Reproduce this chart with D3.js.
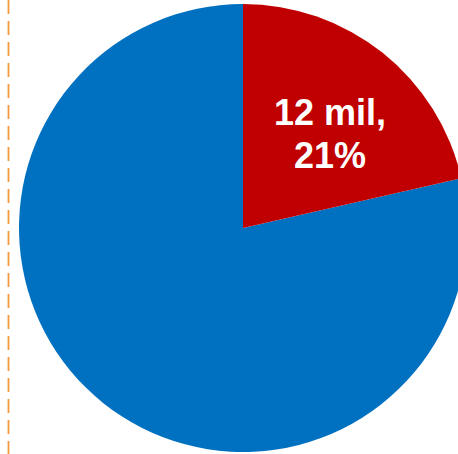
<!DOCTYPE html>
<html>
<head>
<meta charset="utf-8">
<script src="https://cdn.jsdelivr.net/npm/d3@7/dist/d3.min.js"></script>
<style>
  html, body { margin: 0; padding: 0; background: #fff; overflow: hidden; }
  svg { display: block; }
</style>
</head>
<body>
<div id="chart"></div>
<script>
// Population split (millions)
const categories = ["Other", "Group"];
const values = [44, 12];
const colors = ["#0070C0", "#C00000"];
const labelled = [false, true];

const width = 458, height = 454;
const cx = 243, cy = 228, radius = 224;

const svg = d3.select("#chart").append("svg")
  .attr("width", width)
  .attr("height", height);

// dashed divider on the left edge
svg.append("line")
  .attr("x1", 8.5).attr("x2", 8.5)
  .attr("y1", 0).attr("y2", height)
  .attr("stroke", "#F79A3E")
  .attr("stroke-width", 1.8)
  .attr("stroke-dasharray", "14,7");

const total = d3.sum(values);
const data = categories.map((c, i) => ({ name: c, value: values[i], color: colors[i], label: labelled[i] }));

// red slice starts at 12 o'clock going clockwise, blue fills the rest
const pie = d3.pie()
  .sort(null)
  .value(d => d.value)
  .startAngle(-2 * Math.PI * values[0] / total)
  .endAngle(2 * Math.PI - 2 * Math.PI * values[0] / total);

const arc = d3.arc().innerRadius(0).outerRadius(radius);
const labelArc = d3.arc().innerRadius(radius * 1.16).outerRadius(radius * 1.16);

const g = svg.append("g").attr("transform", `translate(${cx},${cy})`);

const arcs = pie(data);

g.selectAll("path")
  .data(arcs)
  .join("path")
  .attr("d", arc)
  .attr("fill", d => d.data.color);

const fmtPct = d3.format(".0%");

const labels = g.selectAll("text.lbl")
  .data(arcs.filter(d => d.data.label))
  .join("text")
  .attr("class", "lbl")
  .attr("transform", d => {
    const [x, y] = labelArc.centroid(d).map(v => v / 2);
    return `translate(${x + 6},${y + 8})`;
  })
  .attr("text-anchor", "middle")
  .attr("fill", "#ffffff")
  .attr("font-family", "'Liberation Sans', Arial, sans-serif")
  .attr("font-weight", "bold")
  .attr("font-size", 36);

labels.append("tspan")
  .attr("x", 0).attr("dy", "-0.25em")
  .text(d => `${d.data.value} mil,`);
labels.append("tspan")
  .attr("x", 0).attr("dy", "1.17em")
  .text(d => fmtPct(d.data.value / total));
</script>
</body>
</html>
